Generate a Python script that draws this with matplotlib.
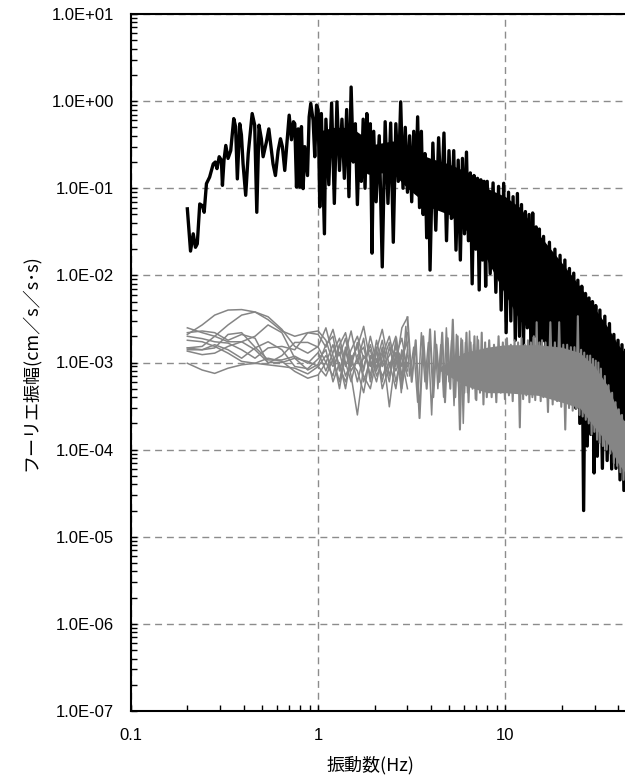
import matplotlib
matplotlib.use("Agg")
import matplotlib.pyplot as plt
from matplotlib.ticker import FuncFormatter, LogLocator


black_freq = [
    0.200, 0.208, 0.215, 0.221, 0.226, 0.233, 0.241, 0.246, 0.253, 0.263,
    0.275, 0.282, 0.288, 0.296, 0.304, 0.308, 0.314, 0.321, 0.330, 0.341,
    0.354, 0.362, 0.370, 0.381, 0.389, 0.397, 0.410, 0.423, 0.444, 0.458,
    0.470, 0.483, 0.497, 0.508, 0.529, 0.545, 0.563, 0.574, 0.591, 0.611,
    0.629, 0.644, 0.663, 0.685, 0.700, 0.720, 0.738, 0.750, 0.766, 0.782,
    0.798, 0.814, 0.831, 0.848, 0.877, 0.895, 0.913, 0.940, 0.959, 0.980,
    1.00, 1.02, 1.04, 1.08,
    1.10, 1.14, 1.18, 1.22, 1.26, 1.30, 1.34, 1.38, 1.42, 1.46, 1.50, 1.54,
    1.58, 1.62, 1.66, 1.70, 1.74, 1.78, 1.82, 1.86, 1.90, 1.94, 1.98,
    2.04, 2.12, 2.20, 2.28, 2.36, 2.44, 2.52, 2.60, 2.68, 2.76, 2.84, 2.92,
    3.00, 3.08, 3.16, 3.24, 3.32, 3.40, 3.48, 3.56, 3.64, 3.72, 3.80, 3.88,
    3.96,
    4.10, 4.25, 4.40, 4.55, 4.70, 4.85, 5.00, 5.15, 5.30, 5.45, 5.60, 5.75,
    5.90, 6.05, 6.20, 6.35, 6.50, 6.65, 6.80, 6.95, 7.10, 7.25, 7.40, 7.55,
    7.70, 7.85,
    8.0, 8.3, 8.6, 8.9, 9.2, 9.5, 9.8, 10.1, 10.4, 10.7, 11.0, 11.3, 11.6,
    11.9, 12.2, 12.5, 12.8, 13.1, 13.4, 13.7, 14.0, 14.3, 14.6, 14.9, 15.2,
    15.5,
    16.0, 16.6, 17.2, 17.8, 18.4, 19.0, 19.6, 20.2, 20.8, 21.4, 22.0, 22.6,
    23.2, 23.8, 24.4, 25.0, 25.6, 26.2, 26.8, 27.4, 28.0, 28.6, 29.2, 29.8,
    30.4, 31.0,
    32, 33, 34, 35, 36, 37, 38, 39, 40, 41, 42, 43, 44, 45, 46, 47,
]
black_amp = [
    0.058, 0.019, 0.030, 0.021, 0.023, 0.066, 0.063, 0.053, 0.113, 0.134,
    0.19, 0.20, 0.168, 0.23, 0.21, 0.108, 0.21, 0.31, 0.22, 0.27,
    0.63, 0.51, 0.128, 0.55, 0.41, 0.19, 0.083, 0.25, 0.72, 0.53,
    0.053, 0.53, 0.37, 0.23, 0.34, 0.48, 0.27, 0.19, 0.14, 0.27,
    0.37, 0.30, 0.16, 0.39, 0.69, 0.36, 0.58, 0.55, 0.103, 0.48,
    0.103, 0.51, 0.099, 0.30, 0.14, 0.66, 0.94, 0.60, 0.23, 0.90,
    0.79, 0.061, 0.72, 0.030,
    0.62, 0.11, 0.95, 0.067, 0.98, 0.16, 0.62, 0.13, 0.80, 0.08, 1.45, 0.20,
    0.55, 0.065, 0.38, 0.12, 0.62, 0.10, 0.72, 0.15, 0.55, 0.018, 0.45,
    0.07, 0.40, 0.0125, 0.58, 0.067, 0.56, 0.024, 0.55, 0.12, 0.98, 0.10,
    0.50, 0.09, 0.40, 0.07, 0.45, 0.10, 0.66, 0.06, 0.45, 0.05, 0.25, 0.027,
    0.21, 0.0115,
    0.33, 0.033, 0.38, 0.06, 0.43, 0.025, 0.27, 0.045, 0.27, 0.0195, 0.21,
    0.015, 0.22, 0.03, 0.26, 0.025, 0.15, 0.008, 0.14, 0.02, 0.13, 0.0068,
    0.125, 0.015, 0.12, 0.0075,
    0.12, 0.0105, 0.115, 0.0064, 0.105, 0.004, 0.114, 0.0022, 0.09, 0.003,
    0.08, 0.0018, 0.087, 0.002, 0.065, 0.0015, 0.054, 0.0025, 0.05, 0.0014,
    0.052, 0.002, 0.036, 0.0012, 0.034, 0.0016,
    0.028, 6e-4, 0.024, 8e-4, 0.020, 5e-4, 0.017, 7e-4, 0.015, 5e-4, 0.012,
    4e-4, 0.0106, 3e-4, 0.0088, 2e-4, 0.0075, 2e-5, 0.0062, 1.1e-4, 0.0055,
    1.5e-4, 0.0050, 5.4e-5, 0.0045, 8.4e-5,
    0.0040, 6.1e-5, 0.0034, 7.5e-5, 0.0028, 6e-5, 0.0021, 6.1e-5, 0.0018,
    4.5e-5, 0.0016, 3.4e-5, 0.0014, 4e-5, 0.0012, 4e-5,
]

# where the black trace oscillates so fast that it reads as a solid band
black_core_freq = [1.0, 1.2, 1.5, 2.0, 2.5, 3.0, 4.0, 5.0, 6.0, 7.0, 8.0,
                   10, 12, 15, 20, 25, 30, 35, 40, 45, 48]
black_core_low = [0.30, 0.25, 0.25, 0.15, 0.15, 0.10, 0.06, 0.05, 0.035,
                  0.025, 0.015, 0.006, 0.003, 0.002, 1e-3, 5e-4, 2e-4,
                  1.5e-4, 1e-4, 8e-5, 8e-5]
black_core_high = [0.45, 0.50, 0.50, 0.32, 0.35, 0.28, 0.22, 0.19, 0.16,
                   0.115, 0.10, 0.08, 0.06, 0.03, 0.014, 0.0075, 0.0042,
                   0.0026, 0.0016, 0.0012, 0.0010]

# grey traces: background noise records, low-frequency part
noise_freq = [0.20, 0.24, 0.28, 0.33, 0.39, 0.46, 0.54, 0.64, 0.75, 0.88, 1.0,
              1.1, 1.2, 1.3, 1.4, 1.5, 1.62, 1.75, 1.9, 2.05, 2.2, 2.4, 2.6,
              2.8, 3.0]
noise_1 = [2.1e-3, 2.7e-3, 3.5e-3, 4.0e-3, 4.05e-3, 3.8e-3, 3.1e-3, 2.3e-3,
           2.0e-3, 2.2e-3, 2.1e-3, 1.5e-3, 2.4e-3, 1.2e-3, 1.9e-3, 9.0e-4,
           1.7e-3, 8.0e-4, 2.0e-3, 1.0e-3, 1.8e-3, 7.0e-4, 1.6e-3, 9.0e-4,
           2.2e-3]
noise_2 = [1.47e-3, 1.53e-3, 2.0e-3, 2.7e-3, 3.5e-3, 3.8e-3, 3.35e-3, 2.4e-3,
           1.53e-3, 1.28e-3, 1.53e-3, 2.5e-3, 1.2e-3, 5.0e-4, 1.3e-3, 2.3e-3,
           1.0e-3, 1.9e-3, 6.0e-4, 1.4e-3, 2.4e-3, 9.0e-4, 1.3e-3, 5.0e-4,
           1.4e-3]
noise_3 = [2.5e-3, 2.2e-3, 2.0e-3, 1.73e-3, 1.73e-3, 2.0e-3, 2.7e-3, 2.2e-3,
           1.12e-3, 8.2e-4, 9.5e-4, 1.6e-3, 2.0e-3, 8.0e-4, 1.4e-3, 7.0e-4,
           2.5e-4, 9.0e-4, 1.6e-3, 8.0e-4, 1.5e-3, 3.1e-4, 1.2e-3, 1.9e-3,
           8.0e-4]
noise_4 = [2.2e-3, 2.3e-3, 2.2e-3, 1.8e-3, 2.1e-3, 1.9e-3, 9.8e-4, 1.2e-3,
           1.7e-3, 1.7e-3, 1.5e-3, 1.0e-3, 7.0e-4, 1.6e-3, 2.2e-3, 1.1e-3,
           1.5e-3, 2.6e-3, 1.0e-3, 6.0e-4, 1.2e-3, 2.0e-3, 9.0e-4, 2.5e-3,
           3.3e-3]
noise_5 = [2.0e-3, 1.88e-3, 1.73e-3, 1.67e-3, 1.4e-3, 1.12e-3, 1.47e-3, 1.53e-3,
           1.4e-3, 2.2e-3, 2.3e-3, 1.8e-3, 1.0e-3, 1.6e-3, 9.0e-4, 1.4e-3,
           2.0e-3, 1.1e-3, 1.4e-3, 7.0e-4, 1.0e-3, 1.7e-3, 6.0e-4, 1.3e-3,
           7.0e-4]
noise_6 = [1.47e-3, 1.4e-3, 1.47e-3, 2.1e-3, 2.2e-3, 1.5e-3, 1.07e-3, 1.07e-3,
           1.18e-3, 9.8e-4, 1.3e-3, 8.0e-4, 1.3e-3, 1.9e-3, 1.0e-3, 6.0e-4,
           1.2e-3, 1.5e-3, 7.0e-4, 1.8e-3, 9.0e-4, 1.2e-3, 2.0e-3, 7.0e-4,
           1.2e-3]
noise_7 = [1.4e-3, 1.4e-3, 1.6e-3, 1.4e-3, 1.12e-3, 1.47e-3, 1.73e-3, 1.4e-3,
           9.0e-4, 8.5e-4, 1.1e-3, 1.4e-3, 6.0e-4, 1.0e-3, 5.0e-4, 1.2e-3,
           6.0e-4, 1.2e-3, 9.0e-4, 1.5e-3, 5.0e-4, 9.0e-4, 1.5e-3, 1.1e-3,
           5.0e-4]
noise_8 = [1.35e-3, 1.23e-3, 1.28e-3, 1.53e-3, 1.73e-3, 1.4e-3, 1.0e-3, 1.0e-3,
           1.12e-3, 1.03e-3, 9.0e-4, 1.2e-3, 9.0e-4, 1.3e-3, 7.0e-4, 1.0e-3,
           1.6e-3, 6.0e-4, 1.1e-3, 1.3e-3, 6.0e-4, 1.5e-3, 8.0e-4, 1.2e-3,
           1.7e-3]
noise_9 = [1.8e-3, 1.73e-3, 1.53e-3, 1.28e-3, 1.03e-3, 9.8e-4, 1.12e-3, 1.03e-3,
           7.9e-4, 6.6e-4, 7.2e-4, 1.0e-3, 1.6e-3, 9.0e-4, 6.0e-4, 1.0e-3,
           8.0e-4, 4.5e-4, 1.2e-3, 9.0e-4, 1.3e-3, 6.0e-4, 1.8e-3, 6.0e-4,
           1.0e-3]
noise_10 = [9.8e-4, 8.2e-4, 7.5e-4, 8.6e-4, 9.4e-4, 9.8e-4, 9.4e-4, 9.0e-4,
            8.6e-4, 7.4e-4, 9.0e-4, 7.0e-4, 1.1e-3, 6.0e-4, 1.5e-3, 8.0e-4,
            1.1e-3, 7.0e-4, 5.0e-4, 1.1e-3, 7.0e-4, 1.0e-3, 5.0e-4, 1.4e-3,
            9.0e-4]

# grey traces above 3 Hz, where the records merge into one band
band_freq = [
    3.00, 3.16, 3.32, 3.48, 3.64, 3.80, 3.96, 4.12, 4.28, 4.44, 4.60, 4.76,
    4.92, 5.08, 5.24, 5.40, 5.56, 5.72, 5.88, 6.04, 6.20, 6.36, 6.52, 6.68,
    6.84, 7.00, 7.16, 7.32, 7.48, 7.64, 7.80, 7.96,
    8.20, 8.45, 8.70, 8.95, 9.20, 9.45, 9.70, 9.95, 10.20, 10.45, 10.70,
    10.95, 11.20, 11.45, 11.70, 11.95, 12.20, 12.45, 12.70, 12.95, 13.20,
    13.45, 13.70, 13.95, 14.20, 14.45, 14.70, 14.95, 15.20, 15.45, 15.70,
    15.95,
    16.4, 16.9, 17.4, 17.9, 18.4, 18.9, 19.4, 19.9, 20.4, 20.9, 21.4, 21.9,
    22.4, 22.9, 23.4, 23.9, 24.4, 24.9, 25.4, 25.9, 26.4, 26.9, 27.4, 27.9,
    28.4, 28.9, 29.4, 29.9, 30.4, 30.9, 31.4, 31.9,
    32.4, 33.2, 34.0, 34.8, 35.6, 36.4, 37.2, 38.0, 38.8, 39.6, 40.4, 41.2,
    42.0, 42.8, 43.6, 44.4, 45.2, 46.0, 46.8, 47.6,
]
band_amp = [
    3.3e-3, 6e-4, 1.8e-3, 2.3e-4, 2.0e-3, 5e-4, 2.4e-3, 4e-4, 1.6e-3, 6e-4,
    2.2e-3, 3.5e-4, 1.9e-3, 5e-4, 3.1e-3, 4e-4, 2.0e-3, 1.7e-4, 1.8e-3,
    4.5e-4, 2.2e-3, 3.5e-4, 1.7e-3, 5e-4, 2.0e-3, 3.7e-4, 1.8e-3, 4.5e-4,
    2.2e-3, 3.3e-4, 1.7e-3, 4e-4,
    1.8e-3, 4e-4, 1.6e-3, 3.5e-4, 2.0e-3, 4.5e-4, 1.7e-3, 3.8e-4, 1.9e-3,
    4.2e-4, 1.6e-3, 3.6e-4, 1.8e-3, 4.5e-4, 1.7e-3, 1.8e-4, 1.9e-3, 3.8e-4,
    1.6e-3, 4.2e-4, 1.8e-3, 3.5e-4, 1.7e-3, 4e-4, 2.0e-3, 3.7e-4, 2.9e-3,
    4.3e-4, 1.7e-3, 3.6e-4, 1.8e-3, 4e-4,
    1.7e-3, 2.7e-4, 2.9e-3, 3.3e-4, 1.7e-3, 3.6e-4, 2.9e-3, 3.1e-4, 1.6e-3,
    1.7e-4, 1.6e-3, 3e-4, 1.5e-3, 2.8e-4, 1.5e-3, 3e-4, 3.4e-3, 2.5e-4,
    1.4e-3, 2.4e-4, 1.3e-3, 2.2e-4, 1.2e-3, 2e-4, 1.2e-3, 1.5e-4, 1.1e-3,
    1.6e-4, 1.05e-3, 1.3e-4, 1.0e-3, 1.2e-4,
    8.5e-4, 1.1e-4, 7e-4, 1e-4, 5.5e-4, 9e-5, 4.5e-4, 7e-5, 3.5e-4, 6.5e-5,
    2.9e-4, 5.5e-5, 2.5e-4, 4.5e-5, 2.1e-4, 4.5e-5, 1.9e-4, 4e-5, 1.7e-4,
    4e-5,
]

# a second grey record through the 2.6-7 Hz mesh
band2_freq = [2.62, 2.78, 2.94, 3.08, 3.24, 3.40, 3.56, 3.72, 3.88, 4.04,
              4.20, 4.36, 4.52, 4.68, 4.84, 5.00, 5.16, 5.32, 5.48, 5.64,
              5.80, 5.96, 6.12, 6.28, 6.44, 6.60, 6.76, 6.92, 7.08, 7.24]
band2_amp = [1.9e-3, 4.5e-4, 2.6e-3, 7e-4, 1.5e-3, 3.5e-4, 2.2e-3, 6e-4,
             1.7e-3, 2.5e-4, 2.3e-3, 5e-4, 1.6e-3, 4e-4, 2.5e-3, 6e-4,
             1.8e-3, 3.2e-4, 2.1e-3, 5e-4, 1.9e-3, 2.0e-4, 1.7e-3, 4.5e-4,
             2.3e-3, 5.5e-4, 1.6e-3, 3.8e-4, 2.0e-3, 5e-4]

# solid part of the grey band
band_core_freq = [4.5, 6.0, 8.0, 10, 15, 20, 25, 30, 35, 40, 45, 48]
band_core_low = [8e-4, 5.5e-4, 4.5e-4, 4.5e-4, 4.2e-4, 3.5e-4, 3e-4, 1.8e-4,
                 1.2e-4, 7e-5, 5e-5, 5e-5]
band_core_high = [9e-4, 1.3e-3, 1.5e-3, 1.6e-3, 1.6e-3, 1.5e-3, 1.3e-3,
                  9e-4, 5.5e-4, 2.8e-4, 1.8e-4, 1.6e-4]

X_LABEL = "振動数(Hz)"
Y_LABEL = "フーリエ振幅(cm／s／s･s)"

BLACK = "#000000"
GREY = "#858585"
GRID = "#8c8c8c"


def sci_label(v, pos):
    return f"{v:.1E}"


def plain_label(v, pos):
    # 100 Hz sits beyond the cropped right edge
    if v > 50:
        return ""
    return f"{v:g}"


def main():
    fig = plt.figure(figsize=(6.25, 7.79), dpi=100)
    # the right end of the axis (100 Hz) lies outside the picture
    ax = fig.add_axes([131 / 625, 68 / 779, 561.5 / 625, 697 / 779])

    ax.set_xscale("log")
    ax.set_yscale("log")
    ax.set_xlim(0.1, 100)
    ax.set_ylim(1e-7, 1e1)

    ax.fill_between(black_core_freq, black_core_low, black_core_high,
                    color=BLACK, lw=0, zorder=3)
    ax.plot(black_freq, black_amp, color=BLACK, lw=2.4, zorder=3)

    noise_lines = (noise_1, noise_2, noise_3, noise_4, noise_5,
                   noise_6, noise_7, noise_8, noise_9, noise_10)
    for amp in noise_lines:
        ax.plot(noise_freq, amp, color=GREY, lw=1.1, zorder=4)
    ax.fill_between(band_core_freq, band_core_low, band_core_high,
                    color=GREY, lw=0, zorder=4)
    ax.plot(band_freq, band_amp, color=GREY, lw=1.5, zorder=4)
    ax.plot(band2_freq, band2_amp, color=GREY, lw=1.1, zorder=4)

    ax.grid(True, which="major", color=GRID, linestyle=(0, (5, 3.5)),
            linewidth=1.0, zorder=1)

    ax.xaxis.set_major_locator(LogLocator(base=10))
    ax.xaxis.set_minor_locator(LogLocator(base=10, subs=range(2, 10)))
    ax.yaxis.set_major_locator(LogLocator(base=10))
    ax.yaxis.set_minor_locator(LogLocator(base=10, subs=range(2, 10)))
    ax.xaxis.set_major_formatter(FuncFormatter(plain_label))
    ax.yaxis.set_major_formatter(FuncFormatter(sci_label))
    ax.xaxis.set_minor_formatter(FuncFormatter(lambda v, p: ""))
    ax.yaxis.set_minor_formatter(FuncFormatter(lambda v, p: ""))

    ax.tick_params(which="both", direction="in", width=1.0, color="black",
                   top=False, right=False)
    ax.tick_params(which="major", length=4, pad=12, labelsize=12)
    ax.tick_params(which="minor", length=4)
    for lab in ax.get_xticklabels() + ax.get_yticklabels():
        lab.set_family(["Liberation Sans", "DejaVu Sans"])

    for side in ("left", "bottom", "top"):
        ax.spines[side].set_linewidth(1.5)
        ax.spines[side].set_color("black")
    ax.spines["right"].set_visible(False)

    cjk = ["Noto Sans CJK JP", "DejaVu Sans"]
    ax.set_xlabel(X_LABEL, fontsize=13, family=cjk)
    ax.set_ylabel(Y_LABEL, fontsize=13, family=cjk)
    ax.xaxis.set_label_coords((370 - 131) / 561.5, (711 - 756) / 697)
    ax.yaxis.set_label_coords((40 - 131) / 561.5, 0.5)

    fig.savefig("out.png", dpi=100)
    plt.close(fig)


if __name__ == "__main__":
    main()
